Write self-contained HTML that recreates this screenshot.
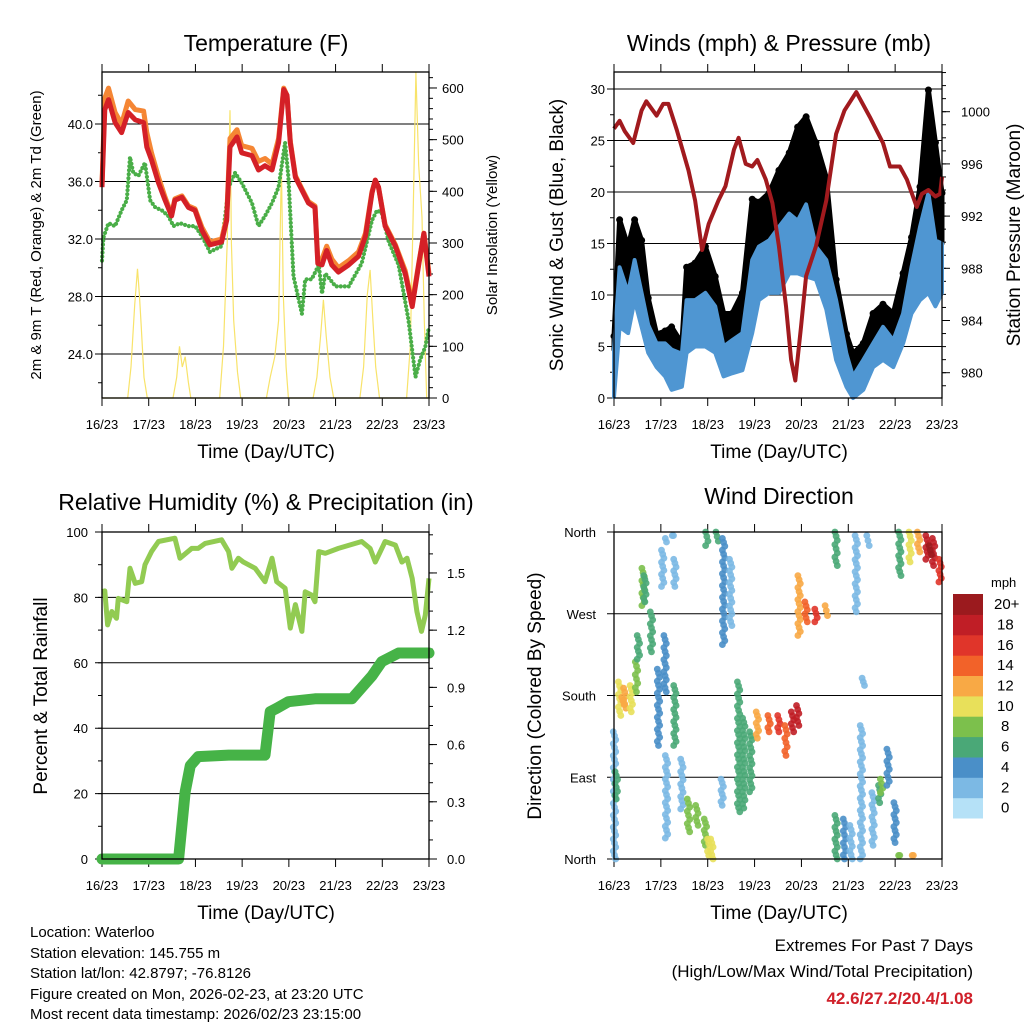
<!DOCTYPE html>
<html><head><meta charset="utf-8">
<style>
html,body{margin:0;padding:0;background:#fff;}
svg{display:block;font-family:"Liberation Sans",Arial,sans-serif;}
</style></head>
<body>
<svg id="fig" width="1024" height="1024" viewBox="0 0 1024 1024" xmlns="http://www.w3.org/2000/svg">
<rect width="1024" height="1024" fill="#fff"/>
<g id="layer"></g>
<text x="266" y="51" font-size="23" text-anchor="middle">Temperature (F)</text>
<text x="779" y="51" font-size="23" text-anchor="middle">Winds (mph) &amp; Pressure (mb)</text>
<text x="266" y="510" font-size="23" text-anchor="middle">Relative Humidity (%) &amp; Precipitation (in)</text>
<text x="779" y="504" font-size="23" text-anchor="middle">Wind Direction</text>
<text x="266" y="458" font-size="19" text-anchor="middle">Time (Day/UTC)</text>
<text x="779" y="458" font-size="19" text-anchor="middle">Time (Day/UTC)</text>
<text x="266" y="919" font-size="19" text-anchor="middle">Time (Day/UTC)</text>
<text x="779" y="919" font-size="19" text-anchor="middle">Time (Day/UTC)</text>
<text transform="translate(41,235) rotate(-90)" font-size="15" text-anchor="middle">2m &amp; 9m T (Red, Orange) &amp; 2m Td (Green)</text>
<text transform="translate(497,235) rotate(-90)" font-size="15" text-anchor="middle">Solar Insolation (Yellow)</text>
<text transform="translate(563,235) rotate(-90)" font-size="19" text-anchor="middle">Sonic Wind &amp; Gust (Blue, Black)</text>
<text transform="translate(1020,235) rotate(-90)" font-size="19" text-anchor="middle">Station Pressure (Maroon)</text>
<text transform="translate(47,696) rotate(-90)" font-size="19" text-anchor="middle">Percent &amp; Total Rainfall</text>
<text transform="translate(541,696) rotate(-90)" font-size="19" text-anchor="middle">Direction (Colored By Speed)</text>
<g font-size="15">
<text x="30" y="937">Location: Waterloo</text>
<text x="30" y="958">Station elevation: 145.755 m</text>
<text x="30" y="978">Station lat/lon: 42.8797; -76.8126</text>
<text x="30" y="999">Figure created on Mon, 2026-02-23, at 23:20 UTC</text>
<text x="30" y="1019">Most recent data timestamp: 2026/02/23 23:15:00</text>
</g>
<g font-size="17" text-anchor="end">
<text x="973" y="951">Extremes For Past 7 Days</text>
<text x="973" y="977">(High/Low/Max Wind/Total Precipitation)</text>
<text x="973" y="1004" fill="#d0202a" font-weight="bold">42.6/27.2/20.4/1.08</text>
</g>
</svg>
<script>
// ---------- Temperature panel data ----------
const tempDays = [0,0.06,0.14,0.28,0.42,0.56,0.71,0.89,0.96,1.06,1.21,1.35,1.49,1.56,1.71,1.85,1.99,2.14,2.31,2.56,2.67,2.74,2.89,2.99,3.21,3.35,3.49,3.64,3.78,3.89,3.96,4.03,4.14,4.28,4.42,4.56,4.62,4.71,4.81,4.92,5.06,5.28,5.49,5.64,5.78,5.85,5.92,6.06,6.28,6.49,6.64,6.78,6.89,7.0];
const temp2m = [35.6,41.0,41.7,40.1,39.4,40.8,40.3,40.1,38.4,37.5,35.9,34.7,33.6,34.7,34.9,34.2,34.0,32.6,31.6,31.8,33.3,38.4,39.1,38.0,37.8,36.8,37.1,36.8,38.7,42.4,42.0,38.7,36.3,35.4,34.5,34.2,30.3,30.2,31.2,30.2,29.7,30.2,30.8,32.2,35.2,36.1,35.6,32.9,31.5,29.6,27.3,30.2,32.4,29.4];
const temp9m = [35.8,41.8,42.5,40.8,40.0,41.6,41.0,40.9,39.4,38.0,36.3,34.9,33.7,34.8,35.0,34.3,34.1,32.8,31.8,32.0,33.5,39.0,39.6,38.5,38.3,37.4,37.6,37.2,39.0,42.5,42.0,38.8,36.4,35.5,34.6,34.3,30.6,30.6,31.5,30.6,30.0,30.5,31.1,32.4,35.3,36.1,35.6,33.0,31.6,29.8,27.5,30.3,32.4,29.6];
const dewDays = [0,0.03,0.14,0.28,0.42,0.53,0.6,0.67,0.78,0.92,1.03,1.14,1.28,1.42,1.53,1.67,1.85,1.99,2.14,2.31,2.56,2.71,2.85,2.99,3.21,3.35,3.49,3.64,3.78,3.92,3.99,4.1,4.28,4.35,4.49,4.64,4.71,4.78,5.0,5.28,5.56,5.78,5.89,5.99,6.14,6.35,6.56,6.71,6.81,6.92,7.0];
const dewpoint = [30.5,32.1,33.1,32.9,34.0,34.7,37.7,36.6,36.4,37.3,34.7,34.2,34.0,33.6,32.9,33.1,32.9,32.9,32.2,31.1,31.5,35.6,36.6,35.9,34.5,32.9,33.6,34.5,35.6,38.7,36.3,29.4,26.8,29.2,29.2,30.2,28.2,29.6,28.7,28.7,30.3,33.3,34.0,33.8,31.8,30.2,26.4,22.4,23.6,24.5,25.9];
const solarDays = [0,0.55,0.62,0.7,0.76,0.8,0.84,0.9,0.97,1.52,1.6,1.66,1.72,1.78,1.85,1.9,2.52,2.6,2.68,2.74,2.77,2.82,2.9,2.97,3.52,3.6,3.7,3.78,3.84,3.88,3.94,3.99,4.52,4.6,4.68,4.74,4.8,4.88,4.96,5.52,5.6,5.68,5.74,5.8,5.86,5.94,6.52,6.6,6.66,6.72,6.78,6.85,6.9,6.95,7.0];
const solar = [0,0,60,180,250,200,140,40,0,0,40,100,60,80,30,0,0,100,300,557,300,150,50,0,0,40,80,150,450,200,60,0,0,40,120,190,120,40,0,0,60,200,248,150,60,0,0,100,350,630,450,350,150,0,0];
const tempTicks = [24,28,32,36,40];
const solarTicks = [0,100,200,300,400,500,600];
const dayLabels = ["16/23","17/23","18/23","19/23","20/23","21/23","22/23","23/23"];
// ---------- Wind panel data ----------
const windDays = [0,0.12,0.30,0.44,0.59,0.73,0.91,1.09,1.23,1.45,1.55,1.73,1.95,2.16,2.34,2.52,2.74,2.95,3.09,3.31,3.52,3.74,3.92,4.10,4.31,4.53,4.74,4.96,5.10,5.32,5.53,5.74,5.96,6.17,6.35,6.53,6.71,6.86,7.0];
const windLo = [0.1,6.9,6.3,9.5,6.9,4.4,3.0,2.1,0.8,1.1,4.4,5.0,5.0,4.4,2.1,2.4,2.7,6.3,9.5,10.2,10.2,12.1,12.1,11.8,11.5,8.6,3.7,1.1,0,0.8,3.0,3.7,3.0,5.3,8.2,9.5,10.2,8.9,10.2];
const windHi = [4.7,12.7,10.2,13.4,10.2,7.1,5.3,5.3,4.7,4.3,9.5,9.5,10.2,8.9,5.0,5.6,6.3,13.4,14.7,15.3,16.6,17.9,17.2,18.8,14.7,13.4,9.5,4.3,2.1,3.7,5.3,6.9,5.6,8.2,12.7,16.6,19.9,15.3,15.0];
const gustHi = [6.0,17.3,14.7,17.3,15.3,9.7,6.2,6.5,6.9,5.3,12.7,13.1,14.7,11.8,8.2,8.2,10.2,19.3,19.0,19.9,22.1,23.8,26.3,27.3,24.8,21.4,11.5,6.2,4.3,5.3,8.2,9.1,8.2,12.1,15.6,20.5,29.9,24.8,19.9];
const presDays = [0,0.12,0.23,0.41,0.59,0.69,0.91,1.05,1.16,1.34,1.59,1.73,1.88,2.02,2.23,2.38,2.56,2.66,2.81,2.95,3.06,3.24,3.38,3.52,3.67,3.78,3.87,3.99,4.10,4.31,4.53,4.74,4.92,5.17,5.46,5.74,5.89,6.10,6.25,6.46,6.57,6.71,6.86,6.96,7.0];
const pressure = [998.7,999.3,998.5,997.6,1000.1,1000.8,999.7,1000.6,1000.6,998.6,995.5,993.2,989.4,991.4,993.2,994.3,997.1,998.0,996.0,995.8,996.3,994.8,993.0,989.7,985.1,981.0,979.4,983.5,987.4,989.7,993.2,998.3,1000.1,1001.5,999.6,997.6,995.8,995.8,994.8,992.7,993.7,994.0,993.5,993.7,995.0];
const windTicks = [0,5,10,15,20,25,30];
const presTicks = [980,984,988,992,996,1000];
// ---------- RH / rain panel data ----------
const rhDays = [0,0.06,0.12,0.21,0.31,0.35,0.53,0.6,0.71,0.85,0.92,1.06,1.21,1.56,1.67,1.92,2.06,2.21,2.56,2.71,2.78,2.92,3.03,3.28,3.49,3.64,3.74,3.92,4.03,4.14,4.28,4.35,4.49,4.56,4.64,4.78,5.06,5.56,5.74,5.85,6.06,6.28,6.42,6.53,6.64,6.74,6.84,6.92,7.0];
const rh = [81.7,82,71.6,75.7,73.6,79.7,78.7,88.9,84.3,84.8,90,94,97.1,98.1,92,95,95,96.5,97.6,94,88.9,92,90.8,88.9,84.8,92,84.8,82.8,70.6,77.8,69.6,81.7,80.7,78.7,94,93.5,95,97.1,95,90.8,97.1,96,90.8,92,85.8,75.7,69.6,74.6,85.8];
const rainDays = [0,1.64,1.78,1.89,2.06,2.71,3.49,3.6,3.74,3.99,4.56,5.35,5.78,5.99,6.35,7.0];
const rain = [0,0,0.353,0.49,0.537,0.545,0.545,0.773,0.79,0.825,0.84,0.84,0.96,1.035,1.08,1.08];
const rhTicks = [0,20,40,60,80,100];
const rainTicks = ["0.0","0.3","0.6","0.9","1.2","1.5"];
// ---------- Wind direction data (streaks: day, dir from, dir to, speed) ----------
const dirDay =   [0.01,0.05,0.12,0.23,0.37,0.19,0.48,0.52,0.62,0.66,0.80,0.95,1.09,1.12,1.12,1.27,1.30,1.45,1.59,1.77,1.95,2.09,2.02,1.98,2.20,2.34,2.49,2.31,2.66,2.77,2.92,3.06,3.31,3.52,3.67,3.81,3.92,3.95,4.10,4.31,4.53,4.74,4.74,4.92,5.06,5.17,5.42,5.32,5.28,5.53,5.67,5.71,5.85,6.00,6.10,6.32,6.50,6.68,6.82,6.96,6.75,6.10,6.39,1.04,1.30];
const dirFrom =  [140,96,195,188,191,178,217,246,320,312,272,209,246,353,114,356,191,110,66,59,44,22,22,360,360,353,330,88,195,155,140,162,158,158,147,162,169,312,283,275,279,360,48,44,37,356,356,199,147,73,81,88,121,62,360,360,360,356,353,330,345,4,4,340,330];
const dirTo =    [0,66,158,166,162,170,184,220,279,283,228,125,184,349,23,356,125,55,30,37,15,0,4,345,350,236,257,59,52,56,74,133,140,140,114,140,147,246,261,261,268,323,0,0,0,272,345,191,0,15,62,73,81,18,312,327,338,330,323,305,335,4,4,300,300];
const dirSpeed = [2.5,5,10,12.5,9,12,8,5,7,5,6,3,4.5,1.5,1.5,1,5,2.5,8,8,7,9,10,6,5,4.5,2.5,2.5,5,6,5,12,14.5,15,14,17,18,12,14,16,12,6,5,4.5,2.5,1.5,1.5,1.5,2.5,2.5,5,7,4.5,4.5,6,9,11,18,17,15,20,7,11,1.5,1.5];
const dirLabels = ["North","East","South","West","North"];
const cbLabels = ["0","2","4","6","8","10","12","14","16","18","20+"];
const cbColors = ["#b5e1f7","#7cb9e4","#4a8fc8","#4aa877","#7cc04c","#e8e05a","#f8a945","#f26229","#e0352a","#c01e26","#9b1a1e"];

const NS = "http://www.w3.org/2000/svg";
const layer = document.getElementById("layer");
function mk(tag, attrs, parent){
  const e = document.createElementNS(NS, tag);
  for (const k in attrs) e.setAttribute(k, attrs[k]);
  (parent||layer).appendChild(e);
  return e;
}
function xScale(P, d){ return P.x0 + d*(P.x1-P.x0)/7; }
const P1={x0:102,x1:429,y0:72,y1:398}, P2={x0:614,x1:942,y0:72,y1:398}, P3={x0:102,x1:429,y0:532,y1:859}, P4={x0:614,x1:942,y0:532,y1:859};
const yTemp = t => 124 + (40-t)*57.5/4;
const ySolar = w => 398 - w*0.5167;
const yWind = v => 398 - v*10.3;
const yPres = p => 111.7 + (1000-p)*13.05;
const yRH = r => 859 - r*3.27;
const yRain = r => 859 - r*190.7;
const yDir = d => 859 - d*327/360;

function pts(P, days, vals, fy){ return days.map((d,i)=> xScale(P,d).toFixed(1)+","+fy(vals[i]).toFixed(1)).join(" "); }

function frame(P, name, tickLabelY){
  const g = mk("g", {});
  
  
  for (let i=0;i<=7;i++){
    const x = xScale(P,i);
    mk("line",{x1:x,x2:x,y1:P.y0-8,y2:P.y0,stroke:"#000","stroke-width":1},g);
    mk("line",{x1:x,x2:x,y1:P.y1,y2:P.y1+8,stroke:"#000","stroke-width":1},g);
    const t = mk("text",{x:x,y:tickLabelY,"font-size":13,"text-anchor":"middle"},g);
    t.textContent = dayLabels[i];
    
    
  }
  return g;
}
function border(P, name){
  const r = mk("rect",{x:P.x0,y:P.y0,width:P.x1-P.x0,height:P.y1-P.y0,fill:"none",stroke:"#000","stroke-width":1.3});
  
  
}
function gridAndLeft(P, vals, fy, labels, labelX, g){
  vals.forEach((v,i)=>{
    const y = fy(v);
    mk("line",{x1:P.x0-7,x2:P.x1,y1:y,y2:y,stroke:"#000","stroke-width":1},g);
    const t = mk("text",{x:labelX,y:y+5,"font-size":13,"text-anchor":"end"},g);
    t.textContent = labels[i];
    
    
  });
}
function minorLeft(P, from, to, step, fy, g){
  for (let v=from; v<=to+1e-9; v+=step){ const y=fy(v); if(y<P.y0-0.5||y>P.y1+0.5)continue; mk("line",{x1:P.x0-4,x2:P.x0,y1:y,y2:y,stroke:"#000","stroke-width":1},g); }
}
function rightAxis(P, vals, fy, labels, labelX, minorFrom, minorTo, minorStep, g){
  for (let v=minorFrom; v<=minorTo+1e-9; v+=minorStep){ const y=fy(v); if(y<P.y0-0.5||y>P.y1+0.5)continue; mk("line",{x1:P.x1,x2:P.x1+4,y1:y,y2:y,stroke:"#000","stroke-width":1},g); }
  vals.forEach((v,i)=>{
    const y = fy(v);
    mk("line",{x1:P.x1,x2:P.x1+8,y1:y,y2:y,stroke:"#000","stroke-width":1},g);
    const t = mk("text",{x:labelX,y:y+5,"font-size":13},g);
    t.textContent = labels[i];
    
    
  });
}

// ===== Panel 1: Temperature =====
let g1 = frame(P1,"temperature",429);
const sol = mk("polyline",{points:pts(P1,solarDays,solar,ySolar),fill:"none",stroke:"#f8e36a","stroke-width":1.2});


gridAndLeft(P1,tempTicks,yTemp,tempTicks.map(v=>v.toFixed(1)),93,g1);
minorLeft(P1,20,44,2,yTemp,g1);
rightAxis(P1,solarTicks,ySolar,solarTicks.map(String),442,0,640,20,g1);
const dew = mk("polyline",{points:pts(P1,dewDays,dewpoint,yTemp),fill:"none",stroke:"#4aae48","stroke-width":4.2,"stroke-linecap":"round","stroke-dasharray":"0 4"});


const t9 = mk("polyline",{points:pts(P1,tempDays,temp9m,yTemp),fill:"none",stroke:"#f58634","stroke-width":5,"stroke-linejoin":"round"});


const t2 = mk("polyline",{points:pts(P1,tempDays,temp2m,yTemp),fill:"none",stroke:"#d42027","stroke-width":5,"stroke-linejoin":"round"});


border(P1,"temperature");

// ===== Panel 2: Wind & pressure =====
let g2 = frame(P2,"winds",429);
gridAndLeft(P2,windTicks,yWind,windTicks.map(String),605,g2);
minorLeft(P2,0,32,2.5,yWind,g2);
rightAxis(P2,presTicks,yPres,presTicks.map(String),961,978,1003,1,g2);
const gustPoly = windDays.map((d,i)=>xScale(P2,d).toFixed(1)+","+yWind(gustHi[i]).toFixed(1)).concat(windDays.slice().reverse().map((d,j)=>{const i=windDays.length-1-j;return xScale(P2,d).toFixed(1)+","+yWind(windHi[i]).toFixed(1);})).join(" ");
const gust = mk("polygon",{points:gustPoly,fill:"#000",stroke:"#000","stroke-width":5,"stroke-linejoin":"round"});


windDays.forEach((d,i)=>{
  const c = mk("circle",{cx:xScale(P2,d),cy:yWind(gustHi[i]),r:3.5,fill:"#000"});
  
  
});
const windPoly = windDays.map((d,i)=>xScale(P2,d).toFixed(1)+","+yWind(windHi[i]).toFixed(1)).concat(windDays.slice().reverse().map((d,j)=>{const i=windDays.length-1-j;return xScale(P2,d).toFixed(1)+","+yWind(windLo[i]).toFixed(1);})).join(" ");
const wind = mk("polygon",{points:windPoly,fill:"#4f96d2",stroke:"#4f96d2","stroke-width":4,"stroke-linejoin":"round"});


const pres = mk("polyline",{points:pts(P2,presDays,pressure,yPres),fill:"none",stroke:"#a11a1e","stroke-width":4,"stroke-linejoin":"round"});


border(P2,"winds");

// ===== Panel 3: RH & rain =====
let g3 = frame(P3,"humidity",890);
gridAndLeft(P3,rhTicks,yRH,rhTicks.map(String),88,g3);
minorLeft(P3,0,100,10,yRH,g3);
rightAxis(P3,[0,0.3,0.6,0.9,1.2,1.5],yRain,rainTicks,447,0,1.7,0.1,g3);
const rhl = mk("polyline",{points:pts(P3,rhDays,rh,yRH),fill:"none",stroke:"#92cb52","stroke-width":5,"stroke-linejoin":"round"});


const rl = mk("polyline",{points:pts(P3,rainDays,rain,yRain),fill:"none",stroke:"#46b347","stroke-width":11,"stroke-linejoin":"round","stroke-linecap":"round"});


border(P3,"humidity");

// ===== Panel 4: Wind direction =====
let g4 = frame(P4,"wind-direction",890);
gridAndLeft(P4,[0,90,180,270,360],yDir,dirLabels,596,g4);
function speedColor(s){ return cbColors[Math.max(0,Math.min(10,Math.floor((s+1)/2)))]; }
dirDay.forEach((d,i)=>{
  const x = xScale(P4,d);
  const ya = yDir(dirFrom[i]), yb = yDir(dirTo[i]);
  const n = Math.max(1, Math.round(Math.abs(yb-ya)/4));
  for (let k=0;k<=n;k++){
    const y = ya + (yb-ya)*k/n;
    const c = mk("circle",{cx:(x + ((k%3)-1)*1.2).toFixed(1),cy:y.toFixed(1),r:3.4,fill:speedColor(dirSpeed[i]),"fill-opacity":0.9});
    
    
  }
});
border(P4,"wind-direction");

// colorbar
const cb = mk("g",{});


const mph = mk("text",{x:991,y:587,"font-size":13},cb);
mph.textContent = "mph";
for (let i=0;i<11;i++){
  const y0 = 818 - (i+1)*20.36;
  const r = mk("rect",{x:953,y:y0.toFixed(1),width:30,height:20.9,fill:cbColors[i]},cb);
  
  
  const t = mk("text",{x:i===10?994:(cbLabels[i].length>1?997:1001),y:(y0+15).toFixed(1),"font-size":15},cb);
  t.textContent = cbLabels[i];
  
  
}
</script>
</body></html>
